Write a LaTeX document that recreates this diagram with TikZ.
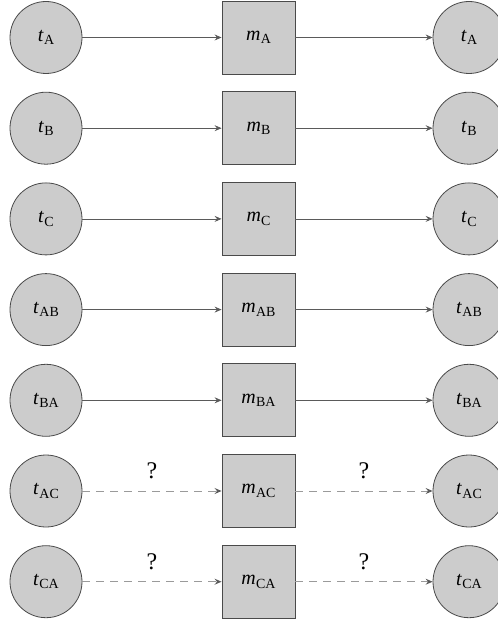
\documentclass[tikz,border=0pt]{standalone}
\usepackage{fontspec}
\setmainfont{Liberation Serif}
\usetikzlibrary{arrows.meta}
\newcommand\lbl[2]{\textit{#1}\kern0.3bp\raisebox{-3.5bp}{\fontsize{14}{15}\selectfont #2}}
\definecolor{nodefill}{HTML}{CCCCCC}
\definecolor{nodeedge}{HTML}{4A4A4A}
\definecolor{solidline}{HTML}{5A5A5A}
\definecolor{dashline}{HTML}{9A9A9A}
\tikzset{
  token/.style={circle, draw=nodeedge, fill=nodefill, line width=0.8bp, minimum size=72bp, inner sep=0pt, font=\fontsize{20}{23}\selectfont},
  model/.style={rectangle, draw=nodeedge, fill=nodefill, line width=0.9bp, minimum size=73bp, inner sep=0pt, font=\fontsize{20}{23}\selectfont},
  link/.style={draw=solidline, line width=0.7bp, -{Stealth[length=7bp, width=6bp, inset=2.5bp]}},
  unknown/.style={draw=dashline, line width=0.9bp, dash pattern=on 8bp off 6bp, -{Stealth[length=7bp, width=6bp, inset=2.5bp, color=solidline]}},
  qmark/.style={font=\fontsize{24}{27}\selectfont, inner sep=0pt}
}
\begin{document}
\begin{tikzpicture}[x=1bp, y=-1bp]
\useasboundingbox (0,0) rectangle (498,623);
\foreach \i/\s/\d in {0/A/0, 1/B/0, 2/C/0, 3/AB/0, 4/BA/0, 5/AC/1, 6/CA/1} {
  \pgfmathsetmacro\yy{37.5+90.7*\i}
  \node[token] (l\i) at (46,\yy) {\lbl{t}{\s}};
  \node[model] (m\i) at (258.5,\yy) {\lbl{m}{\s}};
  \node[token] (r\i) at (469,\yy) {\lbl{t}{\s}};
  \ifnum\d=0
    \draw[link] (l\i) -- (m\i);
    \draw[link] (m\i) -- (r\i);
  \else
    \draw[unknown] (l\i) -- (m\i);
    \draw[unknown] (m\i) -- (r\i);
    \node[qmark] (ql\i) at (152,\yy-20) {?};
    \node[qmark] (qr\i) at (364,\yy-20) {?};
  \fi
}
\end{tikzpicture}
\end{document}
